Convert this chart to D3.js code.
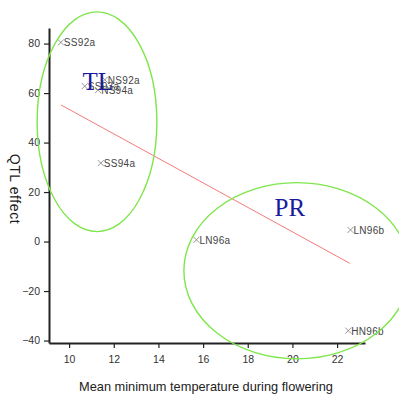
<!DOCTYPE html>
<html>
<head>
<meta charset="utf-8">
<script src="https://cdn.jsdelivr.net/npm/d3@7"></script>
<style>
  body { margin: 0; background: #fff; }
  svg { display: block; }
</style>
</head>
<body>
<div id="chart"></div>
<script>
const FRAME_WIDTH = 399;
const FRAME_HEIGHT = 395;
const MARGINS = { left: 49, right: 34, top: 28, bottom: 52 };

// data
const SITES = ["SS92a", "SS93a", "NS92a", "NS94a", "SS94a", "LN96a", "LN96b", "HN96b"];
const TEMPS = [9.63, 10.7, 11.6, 11.3, 11.42, 15.7, 22.6, 22.5];
const EFFECTS = [80.5, 62.8, 65.4, 61.2, 31.7, 0.7, 4.7, -36];

const X_TICKS = [10, 12, 14, 16, 18, 20, 22];
const Y_TICKS = [-40, -20, 0, 20, 40, 60, 80];

// fitted trend line end points
const TREND_X = [9.64, 22.57];
const TREND_Y = [55.2, -8.8];

// group ellipses (centre x, centre y, radius x, radius y in data units)
const GROUP_NAMES = ["TL", "PR"];
const GROUP_CX = [11.25, 20.2];
const GROUP_CY = [48.4, -11.8];
const GROUP_RX = [2.68, 5.06];
const GROUP_RY = [44.4, 35.6];
const GROUP_LABEL_X = [10.6, 19.2];
const GROUP_LABEL_Y = [61.2, 10.5];

const X_SCALE = d3.scaleLinear()
  .domain([9.1, 23.25])
  .range([MARGINS.left, FRAME_WIDTH - MARGINS.right]);

const Y_SCALE = d3.scaleLinear()
  .domain([-41, 86.3])
  .range([FRAME_HEIGHT - MARGINS.bottom, MARGINS.top]);

const FRAME = d3.select("#chart")
  .append("svg")
  .attr("width", FRAME_WIDTH)
  .attr("height", FRAME_HEIGHT)
  .style("font-family", "Arial, 'Liberation Sans', sans-serif");

// trend line
FRAME.append("line")
  .attr("x1", X_SCALE(TREND_X[0]))
  .attr("y1", Y_SCALE(TREND_Y[0]))
  .attr("x2", X_SCALE(TREND_X[1]))
  .attr("y2", Y_SCALE(TREND_Y[1]))
  .attr("stroke", "#f47a7a")
  .attr("stroke-width", 1);

// points
const points = FRAME.selectAll(".pt")
  .data(SITES.map((s, i) => ({ site: s, t: TEMPS[i], e: EFFECTS[i] })))
  .enter()
  .append("g")
  .attr("class", "pt")
  .attr("transform", (d) => `translate(${X_SCALE(d.t)},${Y_SCALE(d.e)})`);

points.append("path")
  .attr("d", "M-3,-3L3,3M-3,3L3,-3")
  .attr("stroke", "#8a8a8a")
  .attr("stroke-width", 0.9);

points.append("text")
  .attr("x", 3)
  .attr("y", 4)
  .attr("font-size", "10px")
  .attr("letter-spacing", "0.3px")
  .attr("fill", "#444")
  .text((d) => d.site);

// axes
const xAxis = FRAME.append("g")
  .attr("transform", `translate(0,${FRAME_HEIGHT - MARGINS.bottom})`)
  .call(d3.axisBottom(X_SCALE).tickValues(X_TICKS).tickSize(5).tickSizeOuter(0).tickPadding(8));

const yAxis = FRAME.append("g")
  .attr("transform", `translate(${MARGINS.left},0)`)
  .call(d3.axisLeft(Y_SCALE).tickValues(Y_TICKS).tickSize(5).tickSizeOuter(0).tickPadding(4));

[xAxis, yAxis].forEach((ax) => {
  ax.select(".domain").attr("stroke", "#222").attr("stroke-width", 2);
  ax.selectAll(".tick line").attr("stroke", "#222").attr("stroke-width", 1.2);
  ax.selectAll(".tick text")
    .attr("fill", "#333")
    .style("font-size", "10.5px")
    .style("font-family", "Arial, 'Liberation Sans', sans-serif");
});

// group ellipses
FRAME.selectAll(".grp")
  .data(GROUP_NAMES.map((n, i) => ({ name: n, i: i })))
  .enter()
  .append("ellipse")
  .attr("class", "grp")
  .attr("cx", (d) => X_SCALE(GROUP_CX[d.i]))
  .attr("cy", (d) => Y_SCALE(GROUP_CY[d.i]))
  .attr("rx", (d) => X_SCALE(GROUP_CX[d.i] + GROUP_RX[d.i]) - X_SCALE(GROUP_CX[d.i]))
  .attr("ry", (d) => Y_SCALE(GROUP_CY[d.i]) - Y_SCALE(GROUP_CY[d.i] + GROUP_RY[d.i]))
  .attr("fill", "none")
  .attr("stroke", "#7ee64a")
  .attr("stroke-width", 1.4);

FRAME.selectAll(".grp-label")
  .data(GROUP_NAMES.map((n, i) => ({ name: n, i: i })))
  .enter()
  .append("text")
  .attr("class", "grp-label")
  .attr("x", (d) => X_SCALE(GROUP_LABEL_X[d.i]))
  .attr("y", (d) => Y_SCALE(GROUP_LABEL_Y[d.i]))
  .attr("font-family", "'Liberation Serif', 'Times New Roman', serif")
  .attr("font-size", "25px")
  .attr("fill", "#1a1a9e")
  .text((d) => d.name);

// axis titles
FRAME.append("text")
  .attr("x", (MARGINS.left + FRAME_WIDTH - MARGINS.right) / 2 - 1)
  .attr("y", FRAME_HEIGHT - 4)
  .attr("text-anchor", "middle")
  .attr("font-size", "12.8px")
  .attr("fill", "#222")
  .text("Mean minimum temperature during flowering");

FRAME.append("text")
  .attr("transform", `translate(10,189) rotate(90)`)
  .attr("text-anchor", "middle")
  .attr("font-size", "14px")
  .attr("letter-spacing", "0.6px")
  .attr("fill", "#222")
  .text("QTL effect");
</script>
</body>
</html>
